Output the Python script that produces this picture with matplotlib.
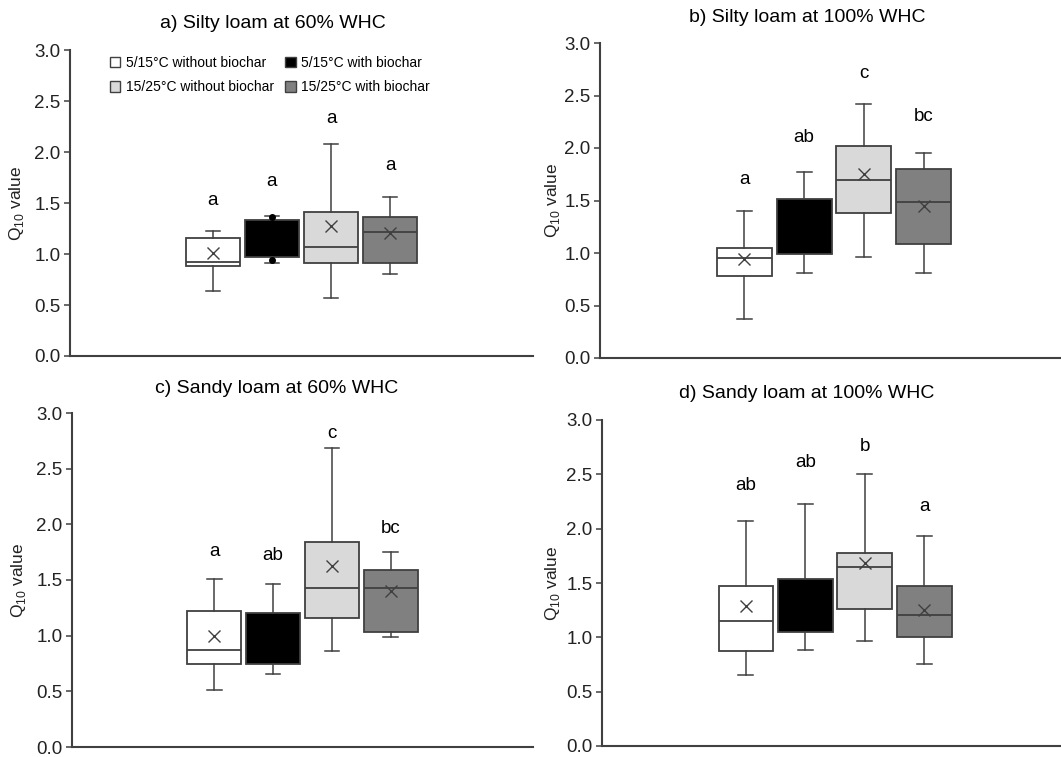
import matplotlib
matplotlib.use("Agg")
import matplotlib.pyplot as plt
from matplotlib.patches import Patch

plt.rcParams["font.family"] = ["Liberation Sans", "DejaVu Sans"]
plt.rcParams["mathtext.fontset"] = "custom"
plt.rcParams["mathtext.rm"] = "Liberation Sans"

# treatments (same order in every panel)
treatments = ["5/15°C without biochar", "5/15°C with biochar",
              "15/25°C without biochar", "15/25°C with biochar"]
box_colors = ["#ffffff", "#000000", "#d9d9d9", "#808080"]

titles = ["a) Silty loam at 60% WHC", "b) Silty loam at 100% WHC",
          "c) Sandy loam at 60% WHC", "d) Sandy loam at 100% WHC"]

# box statistics, one list per panel (4 treatments each)
whislo = [[0.64, 0.91, 0.57, 0.80],
          [0.375, 0.81, 0.965, 0.81],
          [0.51, 0.66, 0.865, 0.99],
          [0.655, 0.88, 0.965, 0.755]]
q1 = [[0.88, 0.97, 0.91, 0.91],
      [0.78, 0.99, 1.38, 1.085],
      [0.75, 0.745, 1.155, 1.03],
      [0.875, 1.045, 1.265, 1.005]]
med = [[0.92, 1.15, 1.07, 1.22],
       [0.95, 1.25, 1.695, 1.49],
       [0.87, 0.95, 1.43, 1.425],
       [1.15, 1.30, 1.645, 1.21]]
q3 = [[1.155, 1.33, 1.415, 1.36],
      [1.05, 1.51, 2.015, 1.80],
      [1.22, 1.205, 1.84, 1.59],
      [1.47, 1.54, 1.78, 1.47]]
whishi = [[1.23, 1.375, 2.075, 1.56],
          [1.40, 1.77, 2.42, 1.95],
          [1.51, 1.465, 2.69, 1.75],
          [2.07, 2.225, 2.50, 1.93]]
means = [[1.01, 1.15, 1.275, 1.21],
         [0.94, 1.25, 1.755, 1.445],
         [1.00, 0.97, 1.625, 1.405],
         [1.29, 1.30, 1.68, 1.25]]
# single points shown for the biochar box in panel a
fliers = [[[], [1.365, 0.945], [], []], [[], [], [], []],
          [[], [], [], []], [[], [], [], []]]

# significance letters and their heights
letters = [["a", "a", "a", "a"], ["a", "ab", "c", "bc"],
           ["a", "ab", "c", "bc"], ["ab", "ab", "b", "a"]]
letter_y = [[1.52, 1.71, 2.33, 1.87],
            [1.70, 2.10, 2.71, 2.30],
            [1.76, 1.72, 2.82, 1.96],
            [2.40, 2.61, 2.76, 2.20]]

positions = [1, 2, 3, 4]
dark = "#404040"

fig = plt.figure(figsize=(10.61, 7.57), dpi=100)
W, H = 1061, 757
# axes rectangles in pixels: left, right, top (y=3), bottom (y=0)
rects = [(70, 533, 50, 356), (600, 1068, 43, 358),
         (72, 533, 413, 747), (602, 1068, 420, 746)]
title_xy = [(273, 24), (807, 18), (277, 388), (807, 394)]
ylabel_x = [17, 552, 18, 553]

for i in range(4):
    l, r, t, b = rects[i]
    ax = fig.add_axes([l / W, 1 - b / H, (r - l) / W, (b - t) / H])
    stats = []
    for j in range(4):
        stats.append(dict(whislo=whislo[i][j], q1=q1[i][j], med=med[i][j],
                          q3=q3[i][j], whishi=whishi[i][j], mean=means[i][j],
                          fliers=fliers[i][j]))
    bp = ax.bxp(stats, positions=positions, widths=0.92, capwidths=0.25,
                patch_artist=True, showmeans=True,
                boxprops=dict(edgecolor=dark, linewidth=1.3),
                whiskerprops=dict(color=dark, linewidth=1.1),
                capprops=dict(color=dark, linewidth=1.1),
                medianprops=dict(color=dark, linewidth=1.3),
                meanprops=dict(marker="x", markeredgecolor=dark,
                               markersize=8, markeredgewidth=1.0),
                flierprops=dict(marker="o", markerfacecolor="black",
                                markeredgecolor="black", markersize=4))
    for j, patch in enumerate(bp["boxes"]):
        patch.set_facecolor(box_colors[j])
    # the black box hides its median and mean
    bp["medians"][1].set_visible(False)
    bp["means"][1].set_visible(False)

    for j in range(4):
        ax.text(positions[j], letter_y[i][j], letters[i][j], ha="center",
                va="center", fontsize=13.5)

    ax.set_xlim(-1.42, 6.42)
    ax.set_ylim(0, 3.0)
    ax.set_yticks([0, 0.5, 1.0, 1.5, 2.0, 2.5, 3.0])
    ax.set_yticklabels(["0.0", "0.5", "1.0", "1.5", "2.0", "2.5", "3.0"])
    ax.set_xticks([])
    ax.tick_params(axis="y", labelsize=13.5, length=4, width=1.1,
                   color=dark, labelcolor="#222222", pad=3)
    for s in ["top", "right"]:
        ax.spines[s].set_visible(False)
    for s in ["left", "bottom"]:
        ax.spines[s].set_color(dark)
        ax.spines[s].set_linewidth(1.5)
    ax.patch.set_alpha(0)

    fig.text(title_xy[i][0] / W, 1 - title_xy[i][1] / H, titles[i],
             ha="center", va="center", fontsize=14)
    fig.text(ylabel_x[i] / W, 1 - (t + b) / 2 / H,
             r"Q$_{\mathregular{10}}$ value", rotation=90, ha="center",
             va="center", fontsize=12.5, color="#222222")

# legend reads row by row; matplotlib fills columns first
order = [0, 2, 1, 3]
handles = [Patch(facecolor=box_colors[k], edgecolor=dark, linewidth=1.0)
           for k in order]
fig.legend(handles, [treatments[k] for k in order], ncol=2, frameon=False,
           fontsize=10, loc="upper left", bbox_to_anchor=(103 / W, 1 - 49 / H),
           borderpad=0, handlelength=0.75, handleheight=0.75,
           handletextpad=0.4, columnspacing=0.8, labelspacing=0.75)

fig.savefig("out.png", dpi=100)
